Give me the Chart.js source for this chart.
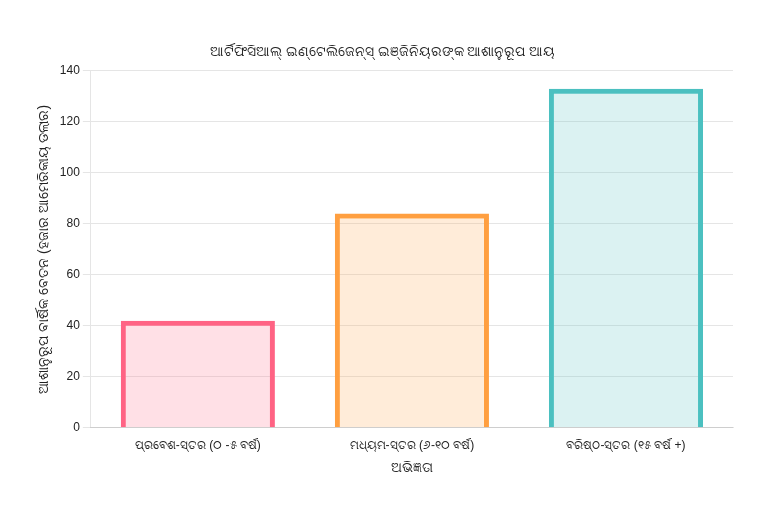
<!DOCTYPE html>
<html>
<head>
<meta charset="utf-8">
<script src="https://cdn.jsdelivr.net/npm/chart.js@4.4.0/dist/chart.umd.min.js"></script>
<style>
  html, body { margin: 0; padding: 0; background: #fff; }
  #wrap { width: 768px; height: 512px; }
</style>
</head>
<body>
<div id="wrap"><canvas id="incomeChart"></canvas></div>
<script>
// Chart data
const levels = ['ପ୍ରବେଶ-ସ୍ତର (୦ -୫ ବର୍ଷ)', 'ମଧ୍ୟମ-ସ୍ତର (୬-୧୦ ବର୍ଷ)', 'ବରିଷ୍ଠ-ସ୍ତର (୧୫ ବର୍ଷ +)'];
const incomes = [42, 84, 133];
const fillColors = ['rgba(255, 99, 132, 0.2)', 'rgba(255, 159, 64, 0.2)', 'rgba(75, 192, 192, 0.2)'];
const lineColors = ['rgb(255, 99, 132)', 'rgb(255, 159, 64)', 'rgb(75, 192, 192)'];

const chartTitle = 'ଆର୍ଟିଫିସିଆଲ୍ ଇଣ୍ଟେଲିଜେନ୍ସ୍ ଇଞ୍ଜିନିୟରଙ୍କ ଆଶାନୁରୂପ ଆୟ';
const yTitle = 'ଆଶାନୁରୂପ ବାର୍ଷିକ ବେତନ (ହଜାର ଆମେରିକୀୟ ଡଲାର)';
const xTitle = 'ଅଭିଜ୍ଞତା';

document.addEventListener('DOMContentLoaded', function() {
    Chart.defaults.font.family = 'Arial, "Liberation Sans", sans-serif';
    const ctx = document.getElementById('incomeChart');

    new Chart(ctx, {
        type: 'bar',
        data: {
            labels: levels,
            datasets: [{
                label: yTitle,
                data: incomes,
                backgroundColor: fillColors,
                borderColor: lineColors,
                borderWidth: 5
            }]
        },
        options: {
            responsive: true,
            maintainAspectRatio: false,
            animation: false,
            layout: { padding: { left: 32, right: 35, top: 34, bottom: 31 } },
            plugins: {
                title: {
                    display: true,
                    text: chartTitle,
                    color: '#222',
                    font: { size: 14, weight: 'normal' }
                },
                legend: { display: false }
            },
            scales: {
                x: {
                    grid: { display: false },
                    ticks: { color: '#222' },
                    title: { display: true, text: xTitle, color: '#222', font: { size: 14 } }
                },
                y: {
                    beginAtZero: true,
                    max: 140,
                    ticks: { stepSize: 20, color: '#222' },
                    title: { display: true, text: yTitle, color: '#222', font: { size: 14 } }
                }
            }
        }
    });
});
</script>
</body>
</html>
